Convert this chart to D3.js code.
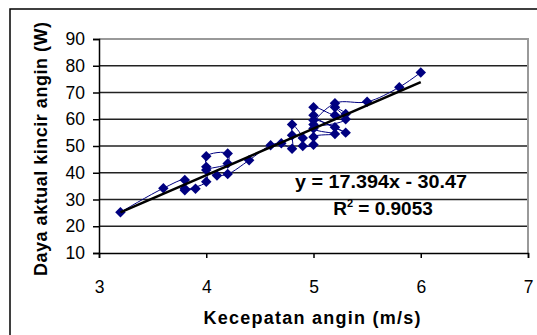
<!DOCTYPE html>
<html>
<head>
<meta charset="utf-8">
<script src="https://cdn.jsdelivr.net/npm/d3@7"></script>
<style>
  html, body { margin: 0; padding: 0; background: #fff; }
  svg { display: block; font-family: "Liberation Sans", Arial, sans-serif; }
</style>
</head>
<body>
<svg id="chart" width="537" height="335"></svg>
<script>
/* Daya aktual vs kecepatan angin — scatter with smoothed line + linear trend. */

// measurements in recorded order
const speed = [3.2, 3.6, 3.8, 3.8, 3.9, 3.8, 4.0, 4.0, 4.0, 4.2, 4.2, 4.0, 4.1, 4.2, 4.4, 4.6, 4.7, 4.8, 4.8, 4.8,
               4.9, 4.9, 5.0, 5.0, 5.2, 5.0, 5.0, 5.2, 5.3, 5.0, 5.0, 5.2, 5.3, 5.2, 5.3, 5.0, 5.2, 5.5, 5.8, 6.0];
const power = [25.2, 34.2, 37.3, 34.0, 34.0, 33.5, 36.6, 42.2, 46.2, 47.2, 43.5, 41.0, 39.0, 39.5, 44.7, 50.3, 51.0, 49.0, 54.0, 58.0,
               53.0, 50.0, 50.5, 53.4, 54.5, 56.5, 59.6, 57.0, 55.0, 61.5, 64.5, 61.5, 62.0, 64.5, 60.0, 58.0, 66.0, 66.5, 72.0, 77.5];

const xTicks = [3, 4, 5, 6, 7];
const yTicks = [10, 20, 30, 40, 50, 60, 70, 80, 90];

// trendline from the chart's label
const slope = 17.394, intercept = -30.47;
const trendX = [3.2, 6.0];

const svg = d3.select("#chart");
const M = { left: 99, right: 528, top: 39, bottom: 253 };

const x = d3.scaleLinear().domain([3, 7]).range([M.left, M.right]);
const y = d3.scaleLinear().domain([10, 90]).range([M.bottom, M.top]);

// outer chart border (only left/top fall inside the picture)
svg.append("rect")
  .attr("x", 10).attr("y", 9).attr("width", 600).attr("height", 400)
  .attr("fill", "none").attr("stroke", "#000").attr("stroke-width", 1.5);

/* ---------- Plot area ---------- */

svg.append("g")
  .selectAll("line")
  .data(yTicks.filter((t) => t > 10 && t < 90))
  .join("line")
  .attr("x1", M.left).attr("x2", M.right)
  .attr("y1", (d) => y(d)).attr("y2", (d) => y(d))
  .attr("stroke", "#222").attr("stroke-width", 1.6);

// grey plot-area frame on top / right
svg.append("path")
  .attr("d", `M${M.left},${M.top}H${M.right}V${M.bottom}`)
  .attr("fill", "none").attr("stroke", "#999").attr("stroke-width", 2);

const yAxis = svg.append("g")
  .attr("transform", `translate(${M.left},0)`)
  .call(d3.axisLeft(y).tickValues(yTicks).tickFormat(d3.format("d")).tickSize(6).tickPadding(8));
const xAxis = svg.append("g")
  .attr("transform", `translate(0,${M.bottom})`)
  .call(d3.axisBottom(x).tickValues(xTicks).tickFormat(d3.format("d")).tickSize(5));

[xAxis, yAxis].forEach((ax) => {
  ax.select(".domain").attr("stroke", "#000").attr("stroke-width", 1.5);
  ax.selectAll(".tick line").attr("stroke", "#000").attr("stroke-width", 1.5);
  ax.selectAll(".tick text")
    .attr("fill", "#000")
    .style("font-size", "17.5px")
    .style("font-family", '"Liberation Sans", Arial, sans-serif');
});
xAxis.selectAll(".tick text").attr("dy", "0.32em").attr("y", 34);

/* ---------- Series ---------- */

const pts = speed.map((s, i) => [s, power[i]]);

svg.append("path")
  .datum(pts)
  .attr("fill", "none")
  .attr("stroke", "#000080")
  .attr("stroke-width", 1)
  .attr("d", d3.line().x((d) => x(d[0])).y((d) => y(d[1])).curve(d3.curveCatmullRom.alpha(0.5)));

svg.append("g")
  .selectAll("path")
  .data(pts)
  .join("path")
  .attr("transform", (d) => `translate(${x(d[0])},${y(d[1])})`)
  .attr("d", d3.symbol().type(d3.symbolDiamond2).size(70))
  .attr("fill", "#000080");

svg.append("line")
  .attr("x1", x(trendX[0])).attr("y1", y(slope * trendX[0] + intercept))
  .attr("x2", x(trendX[1])).attr("y2", y(slope * trendX[1] + intercept))
  .attr("stroke", "#000").attr("stroke-width", 2.5);

/* ---------- Labels ---------- */

svg.append("text")
  .attr("x", 381).attr("y", 188)
  .attr("text-anchor", "middle")
  .attr("textLength", 172).attr("lengthAdjust", "spacingAndGlyphs")
  .style("font-size", "19px").style("font-weight", "bold")
  .text("y = 17.394x - 30.47");

const r2 = svg.append("text")
  .attr("x", 383).attr("y", 215)
  .attr("text-anchor", "middle")
  .style("font-size", "19px").style("font-weight", "bold");
r2.append("tspan").text("R");
r2.append("tspan").attr("dy", -8).style("font-size", "11px").text("2");
r2.append("tspan").attr("dy", 8).text(" = 0.9053");

svg.append("text")
  .attr("x", 312).attr("y", 324)
  .attr("text-anchor", "middle")
  .attr("textLength", 217).attr("lengthAdjust", "spacing")
  .style("font-size", "18px").style("font-weight", "bold")
  .text("Kecepatan angin (m/s)");

svg.append("text")
  .attr("transform", "translate(47,149) rotate(-90)")
  .attr("text-anchor", "middle")
  .attr("textLength", 254).attr("lengthAdjust", "spacing")
  .style("font-size", "18px").style("font-weight", "bold")
  .text("Daya aktual kincir angin (W)");
</script>
</body>
</html>
